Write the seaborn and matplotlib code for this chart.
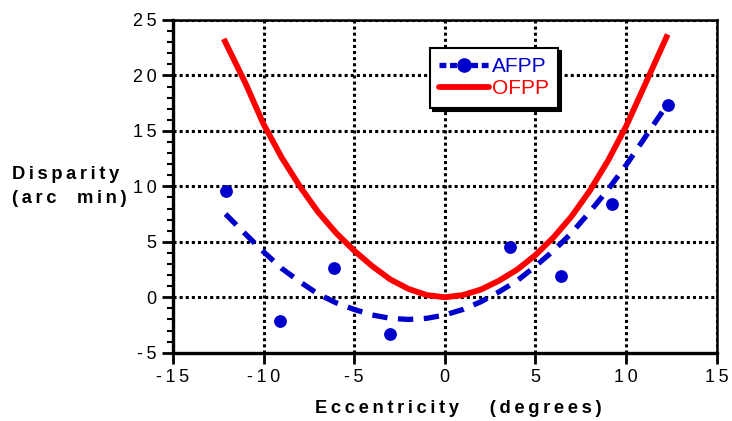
import matplotlib.pyplot as plt
import seaborn as sns
from matplotlib.lines import Line2D
from matplotlib.ticker import MultipleLocator, FuncFormatter

sns.set_theme(style="ticks")
plt.rcParams['font.family'] = ['Liberation Sans', 'DejaVu Sans']
plt.rcParams['axes.unicode_minus'] = False

# AFPP measurements (dots)
afpp_x = [-12.1, -9.1, -6.1, -3.0, 3.6, 6.4, 9.2, 12.3]
afpp_y = [9.6, -2.1, 2.6, -3.3, 4.5, 1.9, 8.4, 17.3]

# AFPP fitted curve (dashed)
afpp_fit_x = [-12.1, -11, -10, -9, -8, -7, -6, -5, -4, -3, -2, -1, 0,
              1, 2, 3, 4, 5, 6, 7, 8, 9, 10, 11, 12.2]
afpp_fit_y = [7.5, 5.7, 4.1, 2.6, 1.4, 0.3, -0.5, -1.1, -1.6, -1.9, -2.0, -1.9, -1.6,
              -1.1, -0.4, 0.5, 1.5, 2.8, 4.2, 5.8, 7.7, 9.7, 11.9, 14.3, 17.2]

# OFPP curve (solid red)
ofpp_x = [-12.2, -11, -10, -9, -8, -7, -6, -5, -4, -3, -2, -1, 0,
          1, 2, 3, 4, 5, 6, 7, 8, 9, 10, 11, 12.3]
ofpp_y = [23.3, 19.3, 15.6, 12.6, 10.0, 7.7, 5.8, 4.2, 2.8, 1.6, 0.75, 0.2, 0.0,
          0.2, 0.7, 1.5, 2.5, 3.8, 5.4, 7.3, 9.6, 12.3, 15.4, 19.0, 23.7]

blue = "#0000cc"
red = "#ff0000"
THIN = "\u2009"


def spaced(s):
    # the original uses wide letter spacing
    return THIN.join(s)


fig = plt.figure(figsize=(7.32, 4.21), dpi=100)
ax = fig.add_axes([0.2363, 0.1622, 0.7427, 0.7903])

sns.lineplot(x=ofpp_x, y=ofpp_y, ax=ax, color=red, lw=4.2, sort=False,
             solid_capstyle="butt", solid_joinstyle="round", zorder=3)
sns.lineplot(x=afpp_fit_x, y=afpp_fit_y, ax=ax, color=blue, lw=3.8, sort=False,
             dashes=False, zorder=3).lines[-1].set_dashes((2.9, 2.0))
sns.scatterplot(x=afpp_x, y=afpp_y, ax=ax, color=blue, s=85, edgecolor=blue,
                linewidth=0, zorder=4)

ax.set_xlim(-15, 15)
ax.set_ylim(-5, 25)
ax.xaxis.set_major_locator(MultipleLocator(5))
ax.yaxis.set_major_locator(MultipleLocator(5))
ax.yaxis.set_minor_locator(MultipleLocator(1))
fmt = FuncFormatter(lambda v, p: spaced(f"{v:.0f}"))
ax.xaxis.set_major_formatter(fmt)
ax.yaxis.set_major_formatter(fmt)
ax.grid(True, which="major", color="black", ls=(0, (1, 1)), lw=2.2)
ax.set_axisbelow(True)

for side in ["left", "bottom"]:
    ax.spines[side].set_linewidth(2.4)
for side in ["top", "right"]:
    ax.spines[side].set_linewidth(1.8)
for s in ax.spines.values():
    s.set_color("black")
    s.set_zorder(5)

ax.tick_params(which="major", direction="out", length=8, width=2, color="black",
               labelsize=13, labelcolor="black", pad=4)
ax.tick_params(which="minor", direction="out", length=4, width=1.5, color="black")
ax.tick_params(axis="x", which="minor", length=0)

ax.set_xlabel("")
ax.set_ylabel("")
fig.text(0.626, 0.02, spaced("Eccentricity") + "      " + spaced("(degrees)"),
         fontsize=13.2, fontweight="bold", color="black", ha="center", va="baseline")
fig.text(0.017, 0.558, spaced("Disparity") + "\n" + spaced("(arc") + "    " + spaced("min)"),
         fontsize=13.2, fontweight="bold", color="black",
         ha="left", va="center", linespacing=1.55)

handles = [
    Line2D([], [], color=blue, lw=3.8, ls=(0, (1.3, 0.7)), marker="o", markersize=9.5),
    Line2D([], [], color=red, lw=4.2),
]
leg = ax.legend(handles, ["AFPP", "OFPP"], loc="upper left",
                bbox_to_anchor=(0.473, 0.916), numpoints=1, fontsize=15,
                frameon=True, fancybox=False, framealpha=1, edgecolor="black",
                shadow={"color": "black", "alpha": 1}, handlelength=2.4,
                handletextpad=0.1, borderpad=0.45, labelspacing=0.15,
                borderaxespad=0)
leg.get_frame().set_linewidth(1.5)
leg.set_zorder(6)
for t, c in zip(leg.get_texts(), [blue, red]):
    t.set_color(c)

fig.savefig("out.png", dpi=100)
